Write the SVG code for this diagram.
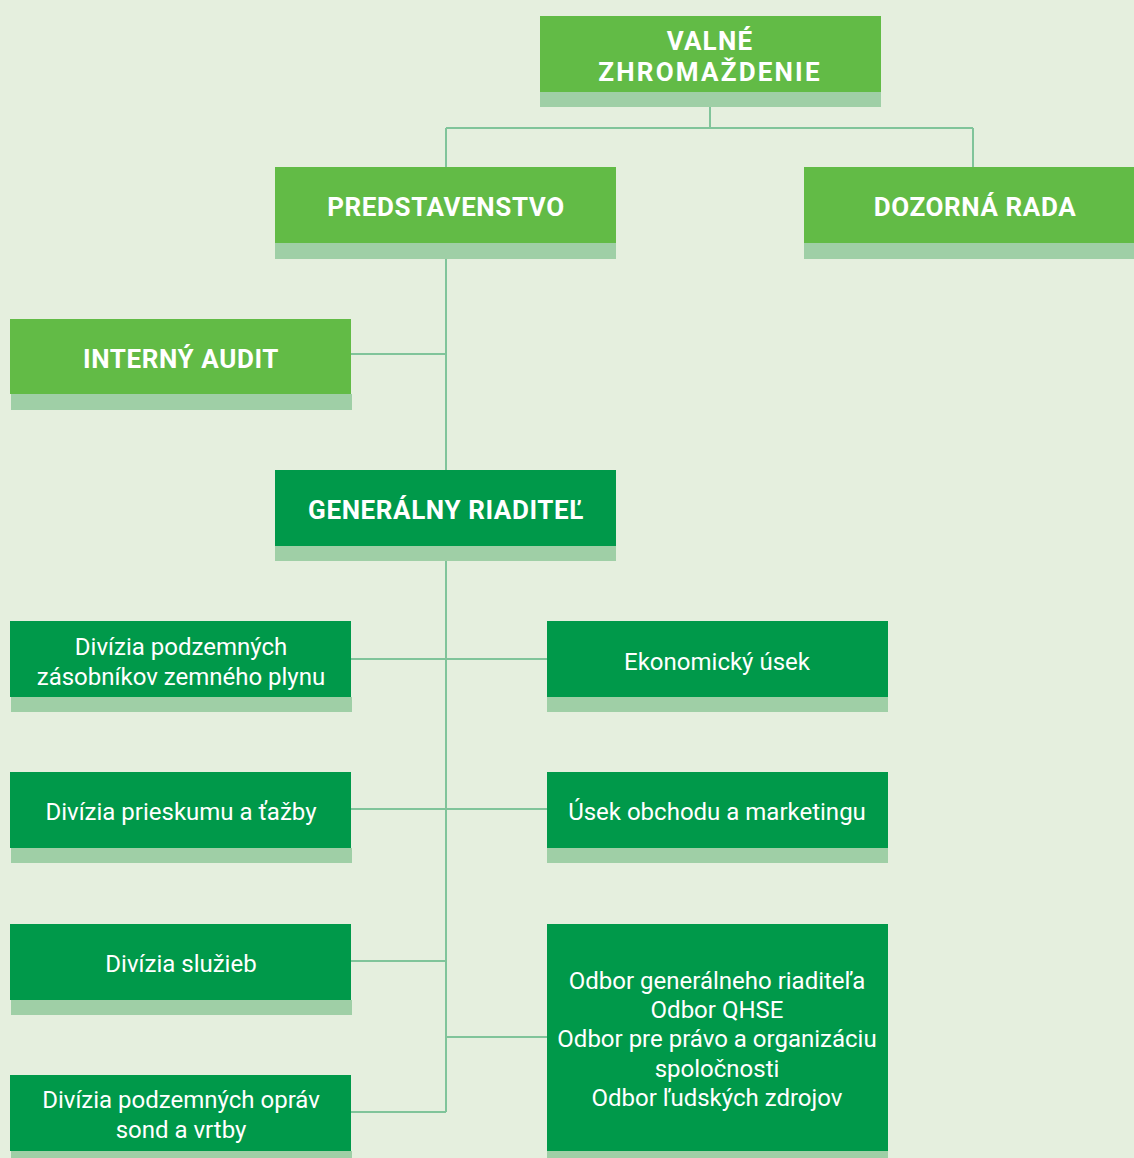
<svg xmlns="http://www.w3.org/2000/svg" width="1134" height="1158" viewBox="0 0 1134 1158">
<style>
.lg{fill:#62bb46}
.dg{fill:#00994a}
.sh{fill:#9fcfa6}
.h{font-family:Roboto,"Liberation Sans",sans-serif;font-weight:bold;font-size:26px;fill:#fff;text-anchor:middle;letter-spacing:0.6px}
.t{font-family:Roboto,"Liberation Sans",sans-serif;font-size:24px;fill:#fff;text-anchor:middle}
.c{stroke:#80c49a;stroke-width:2;fill:none}
</style>
<rect width="1134" height="1158" fill="#e5efde"/>
<g id="connectors" class="c">
<path d="M710 92V128M446 128H973M446 128V167M973 128V167"/>
<path d="M446 259V470M351 354H446"/>
<path d="M446 561V1112M351 659H547M351 809H547M351 961H446M446 1037H547M351 1112H446"/>
</g>
<g id="valne">
<rect class="sh" x="540" y="92" width="341" height="15"/>
<rect class="lg" x="540" y="16" width="341" height="76"/>
<text class="h" x="710" y="50" style="letter-spacing:1.2px">VALNÉ</text>
<text class="h" x="710" y="81" style="letter-spacing:2.2px">ZHROMAŽDENIE</text>
</g>
<g id="predstavenstvo">
<rect class="sh" x="275" y="243" width="341" height="16"/>
<rect class="lg" x="275" y="167" width="341" height="76"/>
<text class="h" x="446" y="216">PREDSTAVENSTVO</text>
</g>
<g id="dozorna">
<rect class="sh" x="804" y="243" width="330" height="16"/>
<rect class="lg" x="804" y="167" width="330" height="76"/>
<text class="h" x="975" y="216">DOZORNÁ RADA</text>
</g>
<g id="audit">
<rect class="sh" x="11" y="394" width="341" height="16"/>
<rect class="lg" x="10" y="319" width="341" height="75"/>
<text class="h" x="181" y="368">INTERNÝ AUDIT</text>
</g>
<g id="gr">
<rect class="sh" x="275" y="546" width="341" height="15"/>
<rect class="dg" x="275" y="470" width="341" height="76"/>
<text class="h" x="446" y="519">GENERÁLNY RIADITEĽ</text>
</g>
<g id="dpzzp">
<rect class="sh" x="11" y="697" width="341" height="15"/>
<rect class="dg" x="10" y="621" width="341" height="76"/>
<text class="t" x="181" y="655">Divízia podzemných</text>
<text class="t" x="181" y="685">zásobníkov zemného plynu</text>
</g>
<g id="eko">
<rect class="sh" x="547" y="697" width="341" height="15"/>
<rect class="dg" x="547" y="621" width="341" height="76"/>
<text class="t" x="717" y="670">Ekonomický úsek</text>
</g>
<g id="dpt">
<rect class="sh" x="11" y="848" width="341" height="15"/>
<rect class="dg" x="10" y="772" width="341" height="76"/>
<text class="t" x="181" y="820">Divízia prieskumu a ťažby</text>
</g>
<g id="uom">
<rect class="sh" x="547" y="848" width="341" height="15"/>
<rect class="dg" x="547" y="772" width="341" height="76"/>
<text class="t" x="717" y="820">Úsek obchodu a marketingu</text>
</g>
<g id="ds">
<rect class="sh" x="11" y="1000" width="341" height="15"/>
<rect class="dg" x="10" y="924" width="341" height="76"/>
<text class="t" x="181" y="972">Divízia služieb</text>
</g>
<g id="odbory">
<rect class="sh" x="547" y="1151" width="341" height="7"/>
<rect class="dg" x="547" y="924" width="341" height="227"/>
<text class="t" x="717" y="989">Odbor generálneho riaditeľa</text>
<text class="t" x="717" y="1018">Odbor QHSE</text>
<text class="t" x="717" y="1047">Odbor pre právo a organizáciu</text>
<text class="t" x="717" y="1077">spoločnosti</text>
<text class="t" x="717" y="1106">Odbor ľudských zdrojov</text>
</g>
<g id="dpo">
<rect class="sh" x="11" y="1151" width="341" height="7"/>
<rect class="dg" x="10" y="1075" width="341" height="76"/>
<text class="t" x="181" y="1108">Divízia podzemných opráv</text>
<text class="t" x="181" y="1138">sond a vrtby</text>
</g>
</svg>
